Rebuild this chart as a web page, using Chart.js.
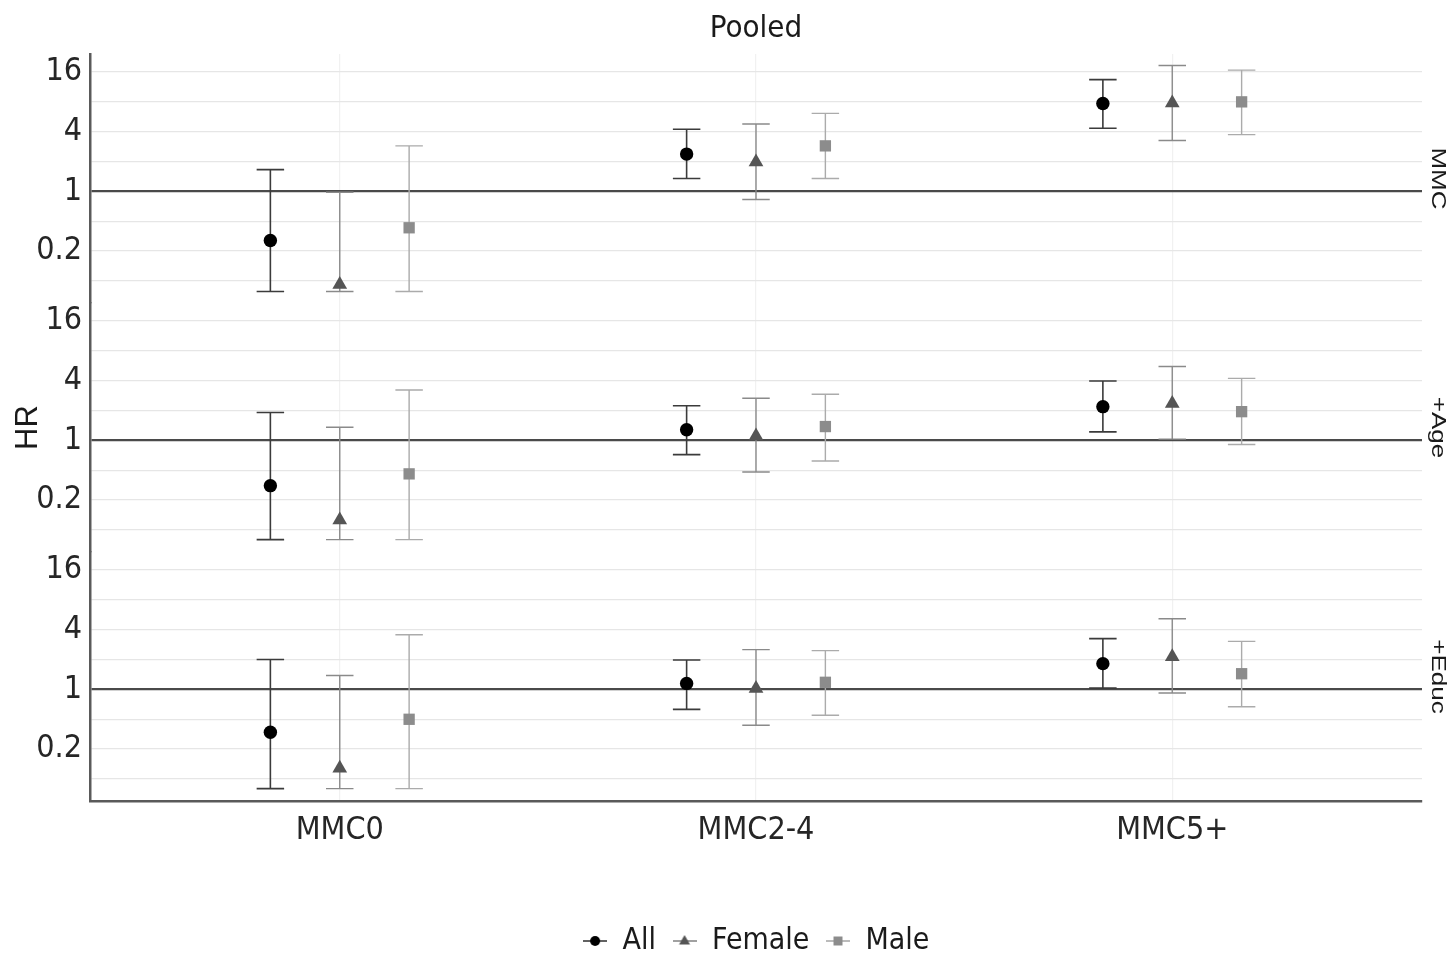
<!DOCTYPE html>
<html>
<head>
<meta charset="utf-8">
<title>Pooled</title>
<script src="https://cdn.jsdelivr.net/npm/chart.js@4/dist/chart.umd.min.js"></script>
<style>
  html, body { margin: 0; padding: 0; background: #fff; }
  #chart { display: block; }
</style>
</head>
<body>
<canvas id="chart" width="1450" height="958"></canvas>
<script>
const categories = ['MMC0', 'MMC2-4', 'MMC5+'];
const panels = ['MMC', '+Age', '+Educ'];
const seriesNames = ['All', 'Female', 'Male'];

const yTickValues = [0.125, 0.25, 0.5, 1, 2, 4, 8, 16];
const yTickLabels = ['', '0.2', '', '1', '', '4', '', '16'];
const yMin = 0.075;
const yMax = 24.3;

// rows: MMC, +Age, +Educ  /  columns: MMC0, MMC2-4, MMC5+
const allHR    = [[0.32, 2.38, 7.7], [0.35, 1.28, 2.19], [0.37, 1.15, 1.82]];
const allLow   = [[0.098, 1.35, 4.34], [0.1, 0.72, 1.22], [0.1, 0.63, 1.03]];
const allHigh  = [[1.66, 4.24, 13.4], [1.91, 2.24, 3.97], [2.0, 1.98, 3.25]];

const femaleHR   = [[0.115, 1.98, 7.8], [0.158, 1.11, 2.35], [0.16, 1.02, 2.13]];
const femaleLow  = [[0.098, 0.83, 3.26], [0.1, 0.48, 1.03], [0.1, 0.435, 0.92]];
const femaleHigh = [[0.98, 4.79, 18.6], [1.36, 2.66, 5.57], [1.38, 2.52, 5.16]];

const maleHR   = [[0.43, 2.88, 8.0], [0.46, 1.38, 1.95], [0.5, 1.18, 1.44]];
const maleLow  = [[0.098, 1.35, 3.74], [0.1, 0.62, 0.91], [0.1, 0.55, 0.67]];
const maleHigh = [[2.88, 6.12, 16.7], [3.22, 2.92, 4.22], [3.56, 2.46, 3.05]];

const seriesData = [
  { hr: allHR, low: allLow, high: allHigh },
  { hr: femaleHR, low: femaleLow, high: femaleHigh },
  { hr: maleHR, low: maleLow, high: maleHigh }
];

const seriesStyle = [
  { shape: 'circle',   radius: 6.7, point: '#000000', bar: '#3b3b3b', barWidth: 1.6 },
  { shape: 'triangle', radius: 8.5, point: '#555555', bar: '#8a8a8a', barWidth: 1.4 },
  { shape: 'rect',     radius: 8,   point: '#8c8c8c', bar: '#ababab', barWidth: 1.4 }
];
const dodge = [-1 / 6, 0, 1 / 6];
const capHalf = 0.033;
const axisIds = ['yMMC', 'yAge', 'yEduc'];

const narrow = "'Liberation Sans Narrow', 'Arial Narrow', 'DejaVu Sans Condensed', 'Liberation Sans', Arial, sans-serif";
const regular = "'Liberation Sans', Arial, sans-serif";

const datasets = [];
panels.forEach((panel, p) => {
  seriesNames.forEach((name, s) => {
    const d = seriesData[s];
    const st = seriesStyle[s];
    datasets.push({
      label: name,
      seriesIndex: s,
      xAxisID: 'x',
      yAxisID: axisIds[p],
      data: categories.map((c, i) => ({ x: i + dodge[s], y: d.hr[p][i] })),
      errLow: d.low[p],
      errHigh: d.high[p],
      pointStyle: st.shape,
      pointRadius: st.radius,
      pointHoverRadius: st.radius,
      pointBackgroundColor: st.point,
      pointBorderColor: st.point,
      pointBorderWidth: 0,
      showLine: false
    });
  });
});

function legendIcon(s) {
  const st = seriesStyle[s];
  const c = document.createElement('canvas');
  c.width = 24; c.height = 16;
  const g = c.getContext('2d');
  g.strokeStyle = st.bar;
  g.lineWidth = 1.6;
  g.beginPath(); g.moveTo(0, 8); g.lineTo(24, 8); g.stroke();
  g.fillStyle = st.point;
  g.beginPath();
  if (st.shape === 'circle') g.arc(12, 8, 5, 0, Math.PI * 2);
  else if (st.shape === 'triangle') { g.moveTo(12, 2); g.lineTo(17.5, 11.5); g.lineTo(6.5, 11.5); g.closePath(); }
  else g.rect(7.5, 3.5, 9, 9);
  g.fill();
  return c;
}

// error bars under the points
const errorBars = {
  id: 'errorBars',
  beforeDatasetsDraw(chart) {
    const ctx = chart.ctx;
    const xs = chart.scales.x;
    const capPx = xs.getPixelForValue(capHalf) - xs.getPixelForValue(0);
    chart.data.datasets.forEach((ds, di) => {
      const meta = chart.getDatasetMeta(di);
      const ys = chart.scales[ds.yAxisID];
      const st = seriesStyle[ds.seriesIndex];
      ctx.save();
      ctx.strokeStyle = st.bar;
      ctx.lineWidth = st.barWidth;
      meta.data.forEach((pt, i) => {
        const x = pt.x;
        const lo = ys.getPixelForValue(ds.errLow[i]);
        const hi = ys.getPixelForValue(ds.errHigh[i]);
        ctx.beginPath();
        ctx.moveTo(x, lo); ctx.lineTo(x, hi);
        ctx.moveTo(x - capPx, lo); ctx.lineTo(x + capPx, lo);
        ctx.moveTo(x - capPx, hi); ctx.lineTo(x + capPx, hi);
        ctx.stroke();
      });
      ctx.restore();
    });
  }
};

// facet strip labels on the right
const stripLabels = {
  id: 'stripLabels',
  afterDraw(chart) {
    const ctx = chart.ctx;
    const x = (chart.chartArea.right + chart.width) / 2 + 1;
    panels.forEach((name, p) => {
      const s = chart.scales[axisIds[p]];
      ctx.save();
      ctx.translate(x, (s.top + s.bottom) / 2);
      ctx.scale(0.75, 1);
      ctx.rotate(Math.PI / 2);
      ctx.font = '26px ' + regular;
      ctx.fillStyle = '#1a1a1a';
      ctx.textAlign = 'center';
      ctx.textBaseline = 'middle';
      ctx.fillText(name, 0, 0);
      ctx.restore();
    });
  }
};

function panelAxis(p) {
  return {
    type: 'logarithmic',
    position: 'left',
    stack: 'facets',
    stackWeight: 1,
    weight: 3 - p,
    min: yMin,
    max: yMax,
    bounds: 'data',
    afterBuildTicks: s => { s.ticks = yTickValues.map(v => ({ value: v })); },
    afterFit: s => { s.width = 90; },
    ticks: {
      autoSkip: false,
      padding: 8,
      color: '#262626',
      font: { family: narrow, size: 32 },
      callback: (v, i) => yTickLabels[i]
    },
    grid: {
      drawTicks: false,
      color: c => (c.tick && c.tick.value === 1 ? '#4a4a4a' : '#e6e6e6'),
      lineWidth: c => (c.tick && c.tick.value === 1 ? 2.2 : 1.3)
    },
    border: { display: true, color: '#5a5a5a', width: 2.5 },
    title: {
      display: p === 1,
      text: 'HR',
      color: '#1a1a1a',
      font: { family: regular, size: 31 },
      padding: { top: 10, bottom: 0 }
    }
  };
}

const scales = {
  x: {
    type: 'linear',
    position: 'bottom',
    min: -0.6,
    max: 2.6,
    bounds: 'data',
    afterBuildTicks: s => { s.ticks = categories.map((c, i) => ({ value: i })); },
    afterFit: s => { s.height = 109; },
    ticks: {
      autoSkip: false,
      maxRotation: 0,
      padding: 10,
      color: '#262626',
      font: { family: narrow, size: 32 },
      callback: (v, i) => categories[i]
    },
    grid: { drawTicks: false, color: '#f1f1f1', lineWidth: 1.2 },
    border: { display: true, color: '#5a5a5a', width: 2.5 }
  }
};
axisIds.forEach((id, p) => { scales[id] = panelAxis(p); });

new Chart(document.getElementById('chart'), {
  type: 'scatter',
  data: { datasets },
  options: {
    responsive: false,
    animation: false,
    layout: { padding: { left: 0, right: 28, top: 0, bottom: 0 } },
    scales,
    plugins: {
      title: {
        display: true,
        text: 'Pooled',
        fullSize: false,
        color: '#1a1a1a',
        font: { family: narrow, size: 31, weight: 'normal' },
        padding: { top: 10, bottom: 6.8 }
      },
      legend: {
        position: 'bottom',
        fullSize: false,
        maxHeight: 48,
        labels: {
          usePointStyle: true,
          pointStyleWidth: 25,
          padding: 16,
          color: '#1a1a1a',
          font: { family: narrow, size: 30 },
          generateLabels: () => seriesNames.map((name, s) => ({
            text: name,
            pointStyle: legendIcon(s),
            fillStyle: seriesStyle[s].point,
            strokeStyle: seriesStyle[s].point,
            fontColor: '#1a1a1a',
            lineWidth: 0,
            hidden: false,
            datasetIndex: s
          }))
        }
      },
      tooltip: { enabled: false }
    }
  },
  plugins: [errorBars, stripLabels]
});
</script>
</body>
</html>
